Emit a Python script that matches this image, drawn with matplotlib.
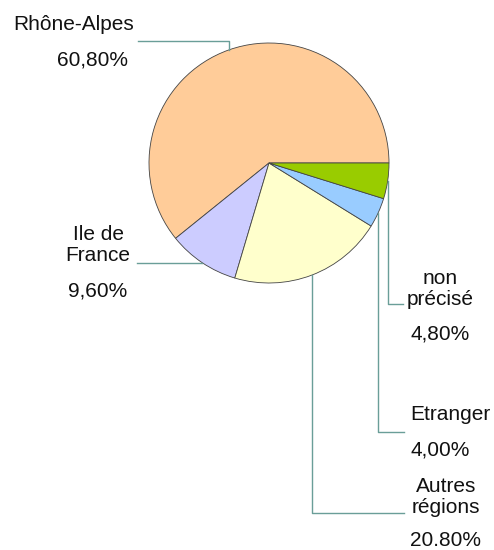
import numpy as np
import matplotlib.pyplot as plt

plt.rcParams["font.family"] = ["Liberation Sans", "DejaVu Sans"]

# data
regions = ["Rhône-Alpes", "Ile de France", "Autres régions", "Etranger", "non précisé"]
shares = [60.8, 9.6, 20.8, 4.0, 4.8]
pct_labels = ["60,80%", "9,60%", "20.80%", "4,00%", "4,80%"]
colors = ["#FFCC99", "#CCCCFF", "#FFFFCC", "#99CCFF", "#99CC00"]

W, H = 494, 550
CX, CY, R = 269, H - 163, 120
LEAD = "#6a9e98"
FS = 15

fig = plt.figure(figsize=(W / 100, H / 100), dpi=100)
ax = fig.add_axes([0, 0, 1, 1])
wedges, _ = ax.pie(shares, colors=colors, startangle=0, counterclock=True,
                   center=(CX, CY), radius=R,
                   wedgeprops=dict(edgecolor="#444444", linewidth=0.6))
ax.set_xlim(0, W)
ax.set_ylim(0, H)
ax.axis("off")


def anchor(w):
    a = np.deg2rad((w.theta1 + w.theta2) / 2)
    return CX + R * np.cos(a), CY + R * np.sin(a)


def y(px):
    return H - px


# leader lines
ax_, ay_ = anchor(wedges[0])
ax.plot([ax_, ax_, 138], [ay_, y(41), y(41)], color=LEAD, lw=1)
ax_, ay_ = anchor(wedges[1])
ax.plot([ax_, 137], [ay_, ay_], color=LEAD, lw=1)
ax_, ay_ = anchor(wedges[2])
ax.plot([ax_, ax_, 404], [ay_, y(513), y(513)], color=LEAD, lw=1)
ax_, ay_ = anchor(wedges[3])
ax.plot([ax_, ax_, 404], [ay_, y(432), y(432)], color=LEAD, lw=1)
ax_, ay_ = anchor(wedges[4])
ax.plot([ax_, ax_, 403], [ay_, y(304), y(304)], color=LEAD, lw=1)

kw = dict(fontsize=FS, va="center", color="#111111")
ax.text(13, y(25), regions[0], ha="left", **kw)
ax.text(128, y(60), pct_labels[0], ha="right", **kw)

ax.text(98, y(245), "Ile de\nFrance", ha="center", linespacing=1.1, **kw)
ax.text(98, y(291), pct_labels[1], ha="center", **kw)

ax.text(440, y(289), "non\nprécisé", ha="center", linespacing=1.1, **kw)
ax.text(440, y(334), pct_labels[4], ha="center", **kw)

ax.text(410, y(415), regions[3], ha="left", **kw)
ax.text(410, y(450), pct_labels[3], ha="left", **kw)

ax.text(446, y(497), "Autres\nrégions", ha="center", linespacing=1.1, **kw)
ax.text(410, y(540), pct_labels[2], ha="left", **kw)

fig.savefig("out.png", dpi=100)
